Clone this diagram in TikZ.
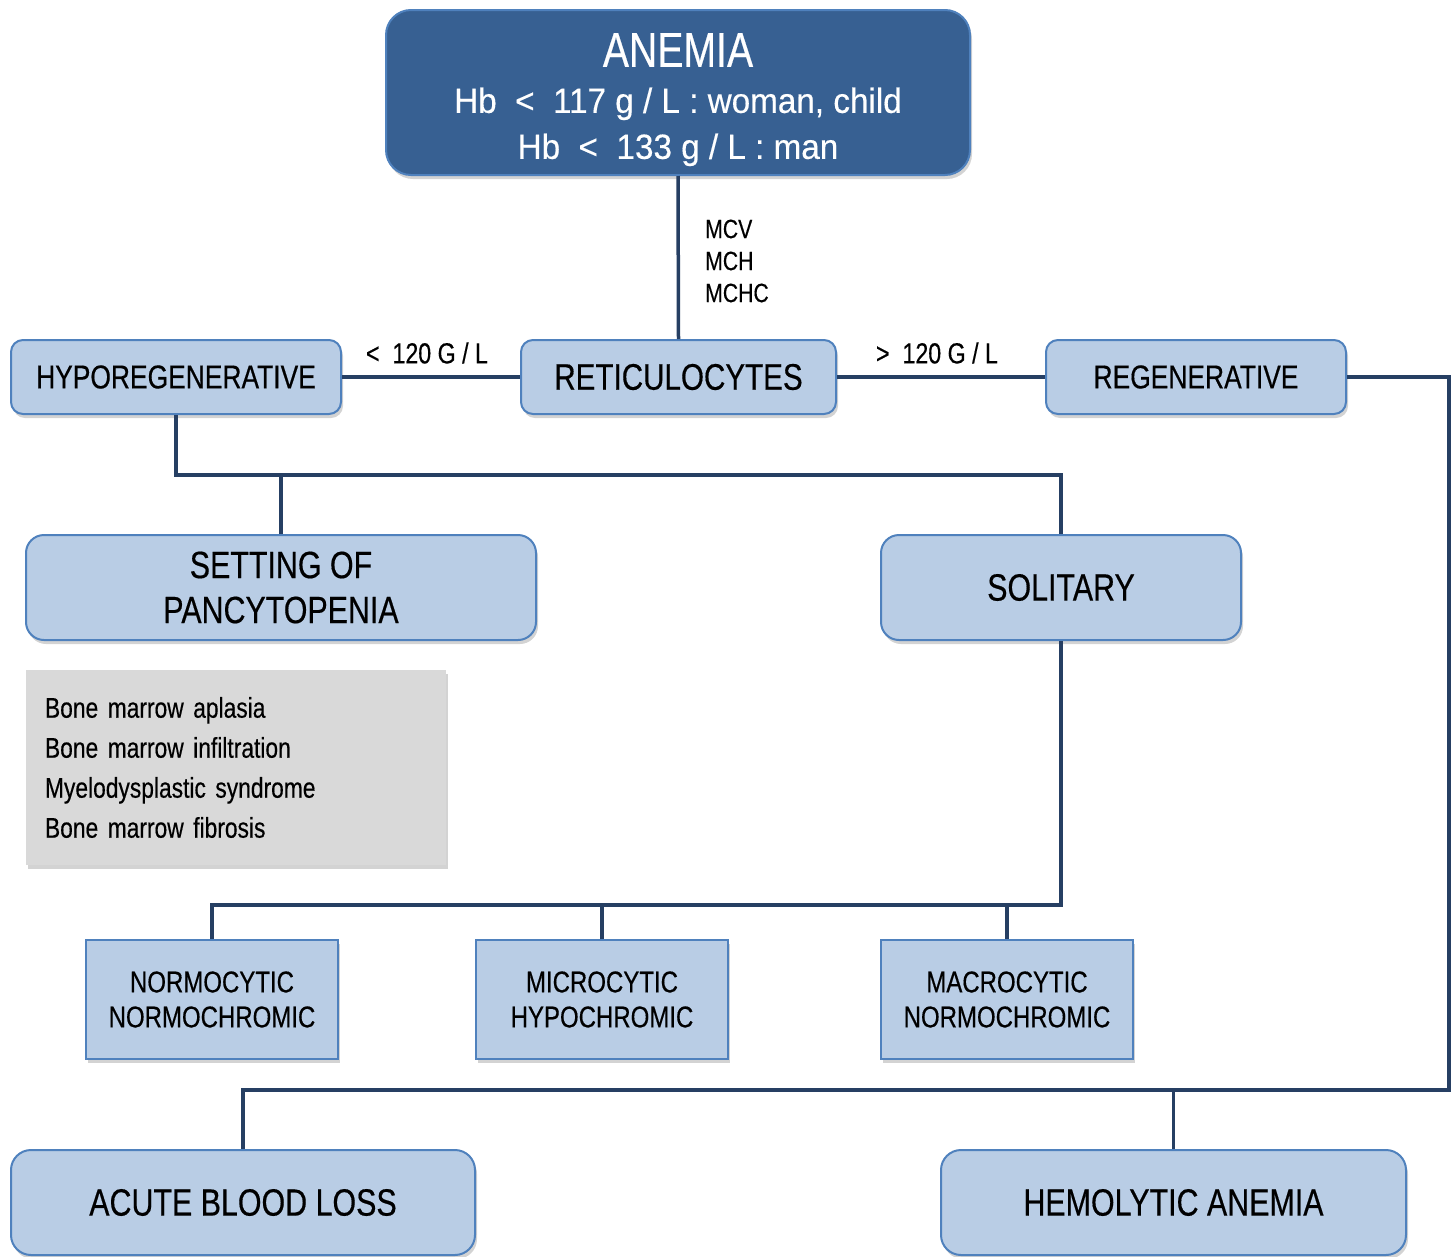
\documentclass[tikz,border=0pt]{standalone}
\usepackage{fontspec}
\setmainfont[FakeStretch=0.8,FakeBold=0.4]{Liberation Sans}
\newfontfamily\widefont[FakeStretch=0.95,FakeBold=0.4]{Liberation Sans}
\usetikzlibrary{shadows}
\definecolor{darkfill}{HTML}{376092}
\definecolor{lightfill}{HTML}{B9CDE5}
\definecolor{boxline}{HTML}{4F81BD}
\definecolor{conn}{HTML}{263F63}
\definecolor{grayfill}{HTML}{D9D9D9}
\begin{document}
\begin{tikzpicture}[x=1pt,y=-1pt,
  shad/.style={drop shadow={shadow xshift=2pt, shadow yshift=-4pt, opacity=0.35}},
  boxbase/.style={draw=boxline, line width=2pt, fill=lightfill, align=center, inner sep=0pt, shad},
  midbox/.style={boxbase, rounded corners=12pt, minimum height=74pt, font=\fontsize{33}{40}\selectfont},
  bigbox/.style={boxbase, rounded corners=18pt, minimum height=105pt, font=\fontsize{38}{45}\selectfont},
  sqbox/.style={boxbase, minimum width=252pt, minimum height=119pt, font=\fontsize{30}{35}\selectfont},
  conn/.style={draw=conn, line width=3.5pt},
  lbl/.style={inner sep=0pt, font=\fontsize{29}{32}\selectfont}
]
\useasboundingbox (0,0) rectangle (1451,1256);

% top box
\node[draw=boxline, line width=2pt, fill=darkfill, rounded corners=25pt, shad,
      minimum width=584pt, minimum height=165pt, inner sep=0pt, align=center,
      text=white, font=\widefont\fontsize{35}{46}\selectfont]
  (anemia) at (678,92.5) {\rule{0pt}{48pt}{\rmfamily\fontsize{49}{46}\selectfont ANEMIA}\\
  Hb\ \ <\ \ 117 g / L : woman, child\\
  Hb\ \ <\ \ 133 g / L : man};

% second row
\node[midbox, minimum width=330pt] (hypo) at (176,377) {HYPOREGENERATIVE};
\node[midbox, minimum width=315pt, font=\fontsize{37}{42}\selectfont] (ret) at (678.5,377) {RETICULOCYTES};
\node[midbox, minimum width=300pt] (reg) at (1196,377) {REGENERATIVE};

% third row
\node[bigbox, minimum width=510pt] (set) at (281,587.5) {SETTING OF\\PANCYTOPENIA};
\node[bigbox, minimum width=360pt] (sol) at (1061,587.5) {SOLITARY};

% grey list
\node[fill=grayfill, shad, minimum width=420pt, minimum height=195pt,
      text width=382pt, inner xsep=19pt, inner ysep=0pt, align=left,
      font=\fontsize{28.5}{40}\selectfont]
  (list) at (236,767.5) {Bone marrow aplasia\\Bone marrow infiltration\\Myelodysplastic syndrome\\Bone marrow fibrosis};

% fourth row
\node[sqbox] (normo) at (212,999.5) {NORMOCYTIC\\NORMOCHROMIC};
\node[sqbox] (micro) at (602,999.5) {MICROCYTIC\\HYPOCHROMIC};
\node[sqbox] (macro) at (1007,999.5) {MACROCYTIC\\NORMOCHROMIC};

% bottom row
\node[boxbase, rounded corners=20pt, minimum width=464pt, minimum height=105pt, font=\fontsize{38}{45}\selectfont] (acute) at (243,1202.5) {ACUTE BLOOD LOSS};
\node[boxbase, rounded corners=20pt, minimum width=465pt, minimum height=105pt, font=\fontsize{38}{45}\selectfont] (hemo) at (1173.5,1202.5) {HEMOLYTIC ANEMIA};

% labels
\node[lbl, align=left, anchor=west, font=\fontsize{26.5}{32}\selectfont] (mcv) at (705,261) {MCV\\MCH\\MCHC};
\node[lbl] (lt) at (427,353) {<\ \ 120 G / L};
\node[lbl] (gt) at (937,353) {>\ \ 120 G / L};

% bus coordinates
\coordinate (bus1) at (620,475);
\coordinate (bus2) at (600,905);
\coordinate (bus3) at (1449,1090);

% connectors
\draw[conn] (anemia.south) -- (ret.north);
\draw[conn] (hypo.east) -- (ret.west);
\draw[conn] (ret.east) -- (reg.west);
\draw[conn] (hypo.south) |- (bus1) -| (sol.north);
\draw[conn] (set.north) -- (set.north |- bus1);
\draw[conn] (sol.south) |- (bus2) -| (normo.north);
\draw[conn] (micro.north) -- (micro.north |- bus2);
\draw[conn] (macro.north) -- (macro.north |- bus2);
\draw[conn] (reg.east) -| (bus3) -| (acute.north);
\draw[conn] (hemo.north) -- (hemo.north |- bus3);
\end{tikzpicture}
\end{document}
